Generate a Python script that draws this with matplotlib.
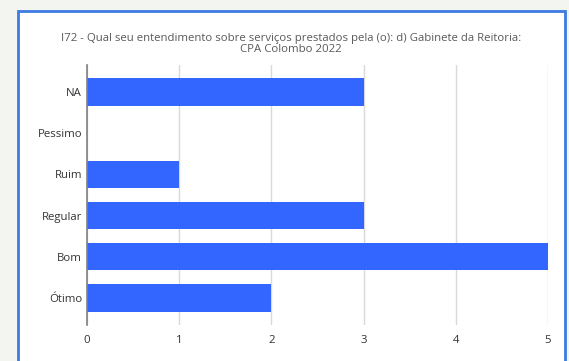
import matplotlib
matplotlib.use("Agg")
import matplotlib.pyplot as plt
from matplotlib.patches import Rectangle

# answers listed top to bottom as they appear in the chart
categories = ["NA", "Pessimo", "Ruim", "Regular", "Bom", "Ótimo"]
counts = [3, 0, 1, 3, 5, 2]
x_ticks = [0, 1, 2, 3, 4, 5]
title = ("I72 - Qual seu entendimento sobre serviços prestados pela (o): d) Gabinete da Reitoria:\n"
         "CPA Colombo 2022")

W, H = 569, 361
plt.rcParams["font.family"] = ["Open Sans", "DejaVu Sans"]

fig = plt.figure(figsize=(W / 100, H / 100), dpi=100)
fig.patch.set_facecolor("#f3f6f0")

# white chart frame with blue border (bottom runs off the screenshot)
bg = fig.add_axes([0, 0, 1, 1], zorder=-1)
bg.set_xlim(0, W)
bg.set_ylim(H, 0)
bg.axis("off")
bg.add_patch(Rectangle((18, 11), 565 - 18, H, facecolor="white",
                       edgecolor="#3d7be0", linewidth=2))

ax = fig.add_axes([87 / W, 1 - 325 / H, (548 - 87) / W, (325 - 65) / H])
ax.set_facecolor("none")

ypos = list(range(len(categories)))
ax.barh(ypos, counts, height=0.66, color="#3366ff", zorder=3)

ax.set_yticks(ypos)
ax.set_yticklabels(categories)
ax.set_ylim(len(categories) - 1 + 0.655, -0.655)
ax.set_xlim(0, 5)
ax.set_xticks(x_ticks)

ax.grid(axis="x", color="#d9d9d9", linewidth=1, zorder=0)
for side in ["top", "right", "bottom"]:
    ax.spines[side].set_visible(False)
ax.spines["left"].set_color("#808080")
ax.spines["left"].set_linewidth(1.2)
ax.spines["left"].set_zorder(4)
ax.tick_params(length=0, labelsize=8.2, colors="#333333", pad=3.5)
ax.tick_params(axis="x", pad=7)

fig.text(291 / W, 1 - 43.5 / H, title, ha="center", va="center",
         fontsize=8.2, color="#595959", linespacing=1.0)

fig.savefig("out.png", dpi=100)
